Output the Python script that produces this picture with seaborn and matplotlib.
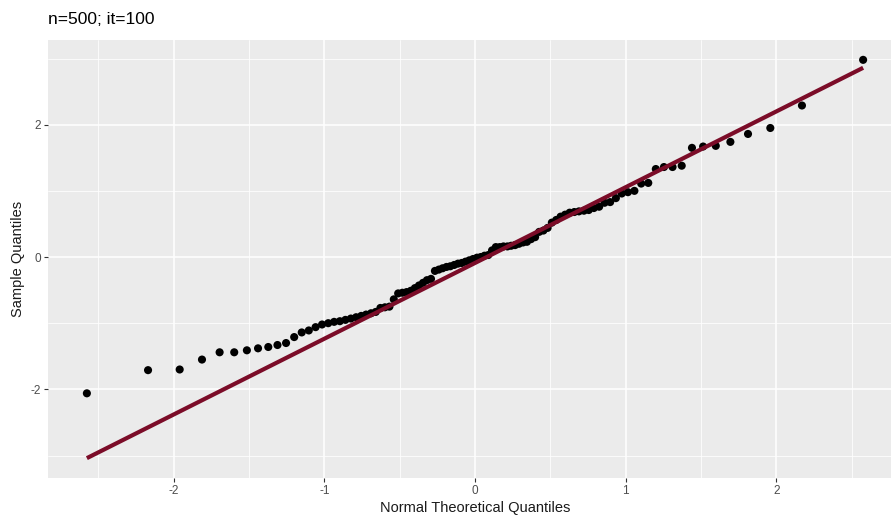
import matplotlib
matplotlib.use("Agg")
import matplotlib.pyplot as plt
import seaborn as sns
import pandas as pd
from matplotlib.ticker import MultipleLocator, FixedLocator

# Theoretical normal quantiles (100 points)
theoretical = [
    -2.576, -2.170, -1.960, -1.812, -1.695, -1.598, -1.514, -1.440, -1.372, -1.311,
    -1.254, -1.200, -1.150, -1.103, -1.058, -1.015, -0.974, -0.935, -0.897, -0.860,
    -0.824, -0.789, -0.755, -0.723, -0.690, -0.659, -0.628, -0.598, -0.568, -0.539,
    -0.510, -0.482, -0.454, -0.426, -0.399, -0.372, -0.345, -0.319, -0.292, -0.266,
    -0.240, -0.215, -0.189, -0.164, -0.138, -0.113, -0.088, -0.063, -0.038, -0.013,
    0.013, 0.038, 0.063, 0.088, 0.113, 0.138, 0.164, 0.189, 0.215, 0.240,
    0.266, 0.292, 0.319, 0.345, 0.372, 0.399, 0.426, 0.454, 0.482, 0.510,
    0.539, 0.568, 0.598, 0.628, 0.659, 0.690, 0.723, 0.755, 0.789, 0.824,
    0.860, 0.897, 0.935, 0.974, 1.015, 1.058, 1.103, 1.150, 1.200, 1.254,
    1.311, 1.372, 1.440, 1.514, 1.598, 1.695, 1.812, 1.960, 2.170, 2.576,
]

# Sample quantiles
sample = [
    -2.06, -1.71, -1.70, -1.55, -1.44, -1.44, -1.41, -1.38, -1.36, -1.33,
    -1.30, -1.21, -1.14, -1.11, -1.06, -1.02, -1.00, -0.98, -0.97, -0.95,
    -0.93, -0.91, -0.89, -0.87, -0.85, -0.83, -0.77, -0.76, -0.75, -0.64,
    -0.55, -0.54, -0.53, -0.51, -0.47, -0.43, -0.39, -0.35, -0.33, -0.21,
    -0.19, -0.17, -0.15, -0.14, -0.12, -0.10, -0.09, -0.07, -0.05, -0.03,
    -0.01, 0.00, 0.02, 0.03, 0.10, 0.15, 0.15, 0.16, 0.16, 0.17,
    0.18, 0.20, 0.22, 0.23, 0.27, 0.30, 0.38, 0.40, 0.44, 0.52,
    0.56, 0.61, 0.64, 0.67, 0.68, 0.69, 0.70, 0.71, 0.74, 0.76,
    0.82, 0.83, 0.89, 0.96, 0.98, 1.00, 1.11, 1.12, 1.33, 1.36,
    1.36, 1.38, 1.65, 1.67, 1.68, 1.74, 1.86, 1.95, 2.29, 2.98,
]

# Reference line endpoints
line_x = [-2.576, 2.576]
line_y = [-3.04, 2.86]

title = "n=500; it=100"
x_label = "Normal Theoretical Quantiles"
y_label = "Sample Quantiles"
x_ticks = [-2, -1, 0, 1, 2]
y_ticks = [-2, 0, 2]

sns.set_theme(style="darkgrid", rc={
    "axes.facecolor": "#EBEBEB",
    "grid.color": "white",
    "axes.edgecolor": "#EBEBEB",
})
plt.rcParams["font.family"] = ["Liberation Sans", "DejaVu Sans"]

fig = plt.figure(figsize=(8.91, 5.22), dpi=100)
ax = fig.add_axes([48 / 891, 1 - 478 / 522, (902 - 48) / 891, (478 - 40) / 522])

pts = pd.DataFrame({"x": theoretical, "y": sample})
ln = pd.DataFrame({"x": line_x, "y": line_y})

sns.scatterplot(data=pts, x="x", y="y", ax=ax, color="black", s=34,
                edgecolor="none", linewidth=0, zorder=3)
sns.lineplot(data=ln, x="x", y="y", ax=ax, color="#7B0C28", linewidth=3.0,
             zorder=4, solid_capstyle="butt")

ax.set_xlim(-2.834, 2.834)
ax.set_ylim(-3.34, 3.28)
ax.xaxis.set_major_locator(FixedLocator(x_ticks))
ax.yaxis.set_major_locator(FixedLocator(y_ticks))
ax.xaxis.set_minor_locator(FixedLocator([-2.5, -1.5, -0.5, 0.5, 1.5, 2.5]))
ax.yaxis.set_minor_locator(FixedLocator([-3, -1, 1, 3]))
ax.grid(which="major", color="white", linewidth=1.1)
ax.grid(which="minor", color="white", linewidth=0.55)
ax.set_axisbelow(True)
for s in ax.spines.values():
    s.set_visible(False)

ax.tick_params(axis="both", which="major", length=3, width=0.8, color="#333333",
               labelcolor="#4D4D4D", labelsize=8.5, pad=2, direction="out",
               bottom=True, left=True)
ax.tick_params(axis="both", which="minor", length=0)
ax.set_xticklabels([str(t) for t in x_ticks])
ax.set_yticklabels([str(t) for t in y_ticks])

ax.set_xlabel(x_label, fontsize=10.5, color="#1A1A1A", labelpad=3)
ax.set_ylabel(y_label, fontsize=10.5, color="#1A1A1A", labelpad=4)

fig.text(48 / 891, 1 - 19 / 522, title, fontsize=12.5, color="black",
         ha="left", va="center")

fig.savefig("out.png", dpi=100)
